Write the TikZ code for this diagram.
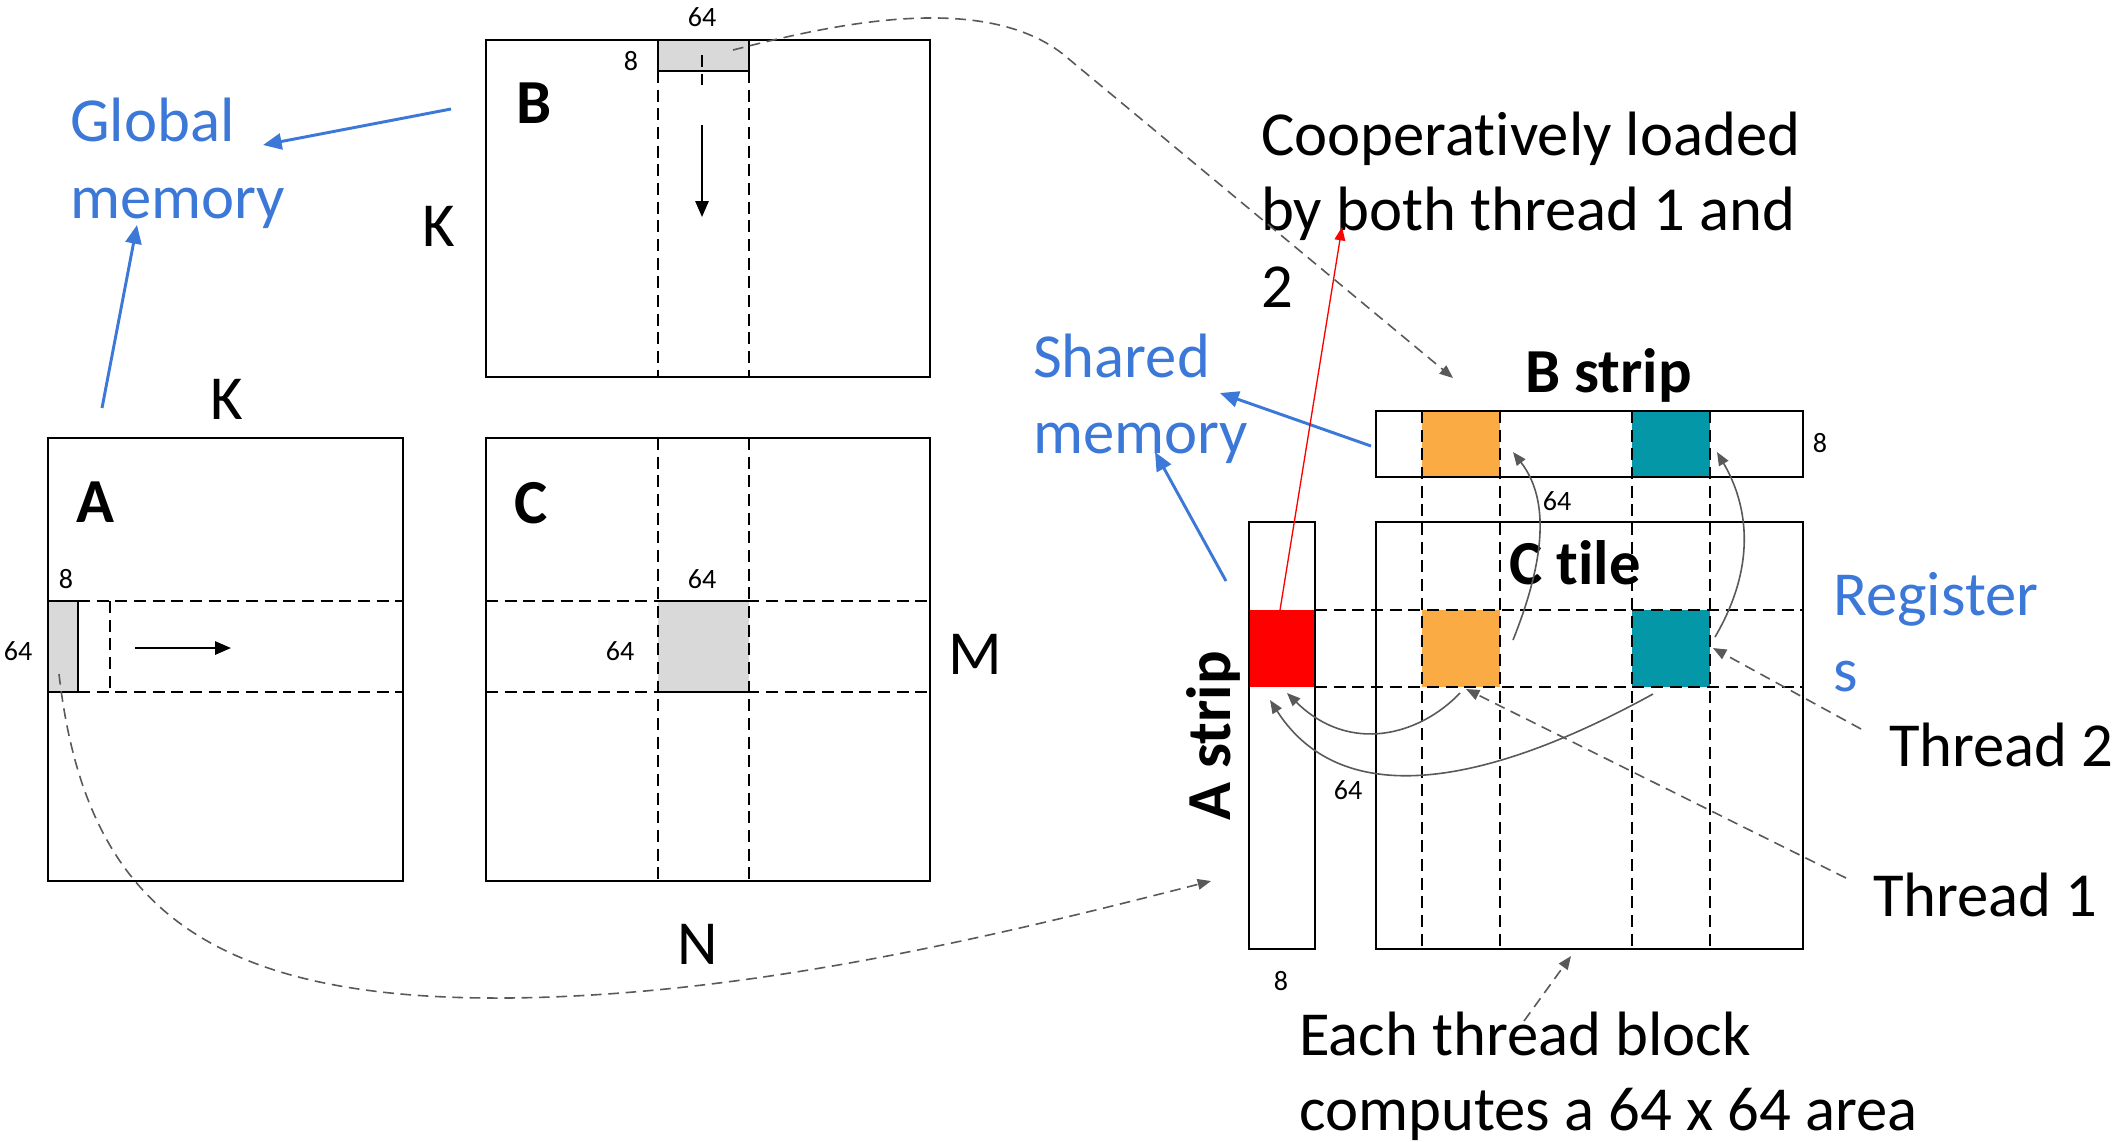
\documentclass[tikz,border=0pt]{standalone}
\usepackage{fontspec}
\setmainfont{Carlito}[Ligatures=NoCommon]
\usetikzlibrary{arrows.meta}

\definecolor{memblue}{RGB}{60,120,216}
\definecolor{arrgray}{RGB}{89,89,89}
\definecolor{cellgray}{RGB}{217,217,217}
\definecolor{throrange}{RGB}{251,171,67}
\definecolor{thrteal}{RGB}{3,151,167}

\newcommand{\bigtxt}{\fontsize{23.5}{28}\selectfont}
\newcommand{\numtxt}{\fontsize{10.5}{12}\selectfont}

\tikzset{every picture/.style={line width=0.9pt}}
\tikzset{
  gridln/.style={dash pattern=on 4.5pt off 2.5pt, line width=0.6pt},
  lbl/.style={anchor=base west, inner sep=0pt, font=\bigtxt},
  boldlbl/.style={lbl, font=\bigtxt\bfseries},
  memlbl/.style={lbl, text=memblue},
  numlbl/.style={inner sep=0pt, font=\numtxt},
  blackarr/.style={line width=0.75pt, -{Triangle[length=6pt,width=5pt]}},
  bluearr/.style={draw=memblue, line width=1.1pt, -{Triangle[length=7pt,width=6pt]}},
  grayarr/.style={draw=arrgray, line width=0.6pt, -{Triangle[length=5pt,width=4pt]}},
  graydash/.style={grayarr, dash pattern=on 4pt off 2.5pt},
}

\begin{document}
\begin{tikzpicture}[x=0.375pt,y=0.375pt,yscale=-1,xscale=1]
\useasboundingbox (0,0) rectangle (2118,1141);

%Shape: Rectangle [matrix A]
\draw  (48,438) rectangle (403,881) ;
\draw  [fill=cellgray] (48,601) rectangle (78,692) ;
\draw  [gridln] (78,601) -- (403,601) (78,692) -- (403,692) (110,601) -- (110,692) ;
\coordinate (aSlideS) at (135,648) ;
\coordinate (aSlideE) at (231,648) ;
\draw  [blackarr] (aSlideS) -- (aSlideE) ;

%Shape: Rectangle [matrix C]
\draw  (486,438) rectangle (930,881) ;
\fill  [cellgray] (658,601) rectangle (749,692) ;
\draw  [gridln] (486,601) -- (930,601) (486,692) -- (930,692) ;
\draw  [gridln] (658,438) -- (658,881) (749,438) -- (749,881) ;
\draw  (658,601) -- (749,601) (658,692) -- (749,692) ;

%Shape: Rectangle [matrix B]
\draw  (486,40) rectangle (930,377) ;
\draw  [fill=cellgray] (658,40) rectangle (749,71) ;
\draw  [gridln] (658,71) -- (658,377) (749,71) -- (749,377) ;
\coordinate (bSlideS) at (702,55) ;
\coordinate (bSlideM) at (702,125) ;
\coordinate (bSlideE) at (702,217) ;
\draw  [gridln] (bSlideS) -- ([yshift=-15]bSlideM) ;
\draw  [blackarr] (bSlideM) -- (bSlideE) ;

%Shape: Rectangle [B strip]
\fill  [throrange] (1422,411) rectangle (1500,477) ;
\fill  [thrteal] (1632,411) rectangle (1710,477) ;
\draw  (1376,411) rectangle (1803,477) ;

%Shape: Rectangle [C tile]
\fill  [throrange] (1422,610) rectangle (1500,687) ;
\fill  [thrteal] (1632,610) rectangle (1710,687) ;
\draw  (1376,522) rectangle (1803,949) ;

%Shape: Rectangle [A strip]
\fill  [red] (1249,610) rectangle (1315,687) ;
\draw  (1249,522) rectangle (1315,949) ;

% grid of the tile
\foreach \gx in {1422,1500,1632,1710}
  \draw  [gridln] (\gx,411) -- (\gx,949) ;
\draw  [gridln] (1315,610) -- (1803,610) (1315,687) -- (1803,687) ;

% Text Node
\node [boldlbl] (labB) at (515,123) {B};
\node [boldlbl] (labA) at (75,522) {A};
\node [boldlbl] (labC) at (513,523) {C};
\node [lbl] (kB) at (421,246) {K};
\node [lbl] (kA) at (209,419) {K};
\node [lbl] (mC) at (947,674) {M};
\node [lbl] (nC) at (676,964) {N};

\node [numlbl] (nb64) at (702,17) {64};
\node [numlbl] (nb8) at (631,61) {8};
\node [numlbl] (na8) at (66,579) {8};
\node [numlbl] (na64) at (18,651) {64};
\node [numlbl] (nc64t) at (702,579) {64};
\node [numlbl] (nc64l) at (620,651) {64};
\node [numlbl] (ns8) at (1820,443) {8};
\node [numlbl] (ns64) at (1557,501) {64};
\node [numlbl] (nt64) at (1348,790) {64};
\node [numlbl] (nt8) at (1281,981) {8};

\node [memlbl] (glob1) at (69,141) {Global};
\node [memlbl] (glob2) at (69,218) {memory};
\node [memlbl] (shr1) at (1032,377) {Shared};
\node [memlbl] (shr2) at (1032,453) {memory};
\node [memlbl] (reg1) at (1832,615) {Register};
\node [memlbl] (reg2) at (1832,691) {s};

\node [lbl] (coop1) at (1260,155) {Cooperatively loaded};
\node [lbl] (coop2) at (1260,230) {by both thread 1 and};
\node [lbl] (coop3) at (1260,307) {2};

\node [boldlbl] (bstrip) at (1524,392) {B strip};
\node [boldlbl] (ctile) at (1508,584) {C tile};
\node [boldlbl, rotate=90] (astrip) at (1230,822) {A strip};

\node [lbl] (thr2) at (1888,766) {Thread 2};
\node [lbl] (thr1) at (1872,916) {Thread 1};
\node [lbl] (each1) at (1298,1055) {Each thread block};
\node [lbl] (each2) at (1298,1130) {computes a 64 x 64 area};

% blue arrows to memory labels
\coordinate (gmB) at (451,109) ;
\coordinate (gmBend) at (263,145) ;
\coordinate (gmA) at (102,408) ;
\coordinate (gmAend) at (137,225) ;
\draw  [bluearr] (gmB) -- (gmBend) ;
\draw  [bluearr] (gmA) -- (gmAend) ;
\coordinate (smB) at (1371,446) ;
\coordinate (smBend) at (1220,393) ;
\coordinate (smA) at (1226,581) ;
\coordinate (smAend) at (1155,452) ;
\draw  [bluearr] (smB) -- (smBend) ;
\draw  [bluearr] (smA) -- (smAend) ;

% red load arrow
\coordinate (redS) at (1280,610) ;
\coordinate (redE) at (1342,227) ;
\draw  [red, line width=0.5pt, -{Triangle[length=5pt,width=4pt]}] (redS) -- (redE) ;

%Curve Lines
\coordinate (tileA) at (59,674) ;
\coordinate (toAstrip) at (1211,881) ;
\draw  [graydash] (tileA) .. controls (85,900) and (200,1000) .. (506,998) .. controls (750,996) and (1000,935) .. (toAstrip) ;
\coordinate (tileB) at (733,50) ;
\coordinate (toBstrip) at (1453,378) ;
\draw  [graydash] (tileB) .. controls (830,25) and (990,-12) .. (1070,60) -- (toBstrip) ;

% register loads
\coordinate (oC) at (1513,640) ;
\coordinate (oB) at (1513,452) ;
\draw  [grayarr] (oC) .. controls (1545,560) and (1550,500) .. (oB) ;
\coordinate (tC) at (1715,637) ;
\coordinate (tB) at (1717,452) ;
\draw  [grayarr] (tC) .. controls (1760,560) and (1745,500) .. (tB) ;
\coordinate (oBot) at (1460,693) ;
\coordinate (rA1) at (1287,693) ;
\draw  [grayarr] (oBot) .. controls (1420,735) and (1350,755) .. (rA1) ;
\coordinate (tBot) at (1653,694) ;
\coordinate (rA2) at (1270,700) ;
\draw  [grayarr] (tBot) .. controls (1560,745) and (1360,840) .. (rA2) ;

% pointers from thread labels
\coordinate (thr2S) at (1861,729) ;
\coordinate (thr2E) at (1713,648) ;
\draw  [graydash] (thr2S) -- (thr2E) ;
\coordinate (thr1S) at (1846,878) ;
\coordinate (thr1E) at (1466,689) ;
\draw  [graydash] (thr1S) -- (thr1E) ;
\coordinate (eachS) at (1524,1021) ;
\coordinate (eachE) at (1571,956) ;
\draw  [graydash] (eachS) -- (eachE) ;

\end{tikzpicture}
\end{document}
